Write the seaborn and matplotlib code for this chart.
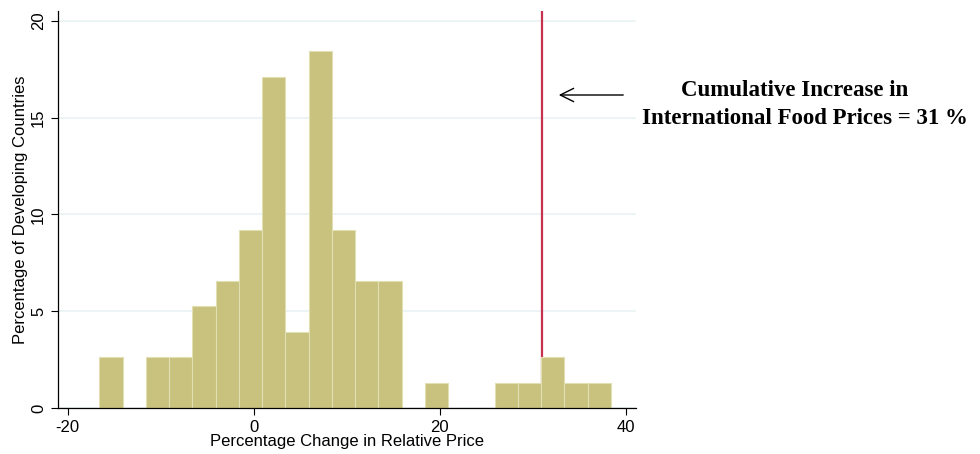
import matplotlib
matplotlib.use('Agg')
import matplotlib.pyplot as plt
import seaborn as sns

# histogram: lower edge of each 2.5-wide bin, and percent of the 76 countries
bin_start = -16.6
bin_width = 2.5
bin_lefts = [-16.6, -14.1, -11.6, -9.1, -6.6, -4.1, -1.6, 0.9, 3.4, 5.9, 8.4,
             10.9, 13.4, 15.9, 18.4, 20.9, 23.4, 25.9, 28.4, 30.9, 33.4, 35.9]
counts = [2, 0, 2, 2, 4, 5, 7, 13, 3, 14, 7, 5, 5, 0, 1, 0, 0, 1, 1, 2, 1, 1]
n_countries = 76
pct = [100 * c / n_countries for c in counts]
centers = [b + bin_width / 2 for b in bin_lefts]

food_increase = 31
xticks = [-20, 0, 20, 40]
yticks = [0, 5, 10, 15, 20]

sns.set_style('white')
plt.rcParams['font.family'] = ['Liberation Sans', 'DejaVu Sans']
plt.rcParams['axes.unicode_minus'] = False
plt.rcParams['text.color'] = 'black'
plt.rcParams['axes.labelcolor'] = 'black'
plt.rcParams['xtick.color'] = 'black'
plt.rcParams['ytick.color'] = 'black'

fig = plt.figure(figsize=(9.8, 4.54), dpi=100)
ax = fig.add_axes([0.0592, 0.1007, 0.5893, 0.8751])

sns.histplot(x=centers, weights=pct, binwidth=bin_width,
             binrange=(bin_start, bin_start + bin_width * len(bin_lefts)),
             color='#c8c27e', edgecolor='#e2dfb4', linewidth=0.8, alpha=1,
             ax=ax, zorder=2)

ax.axvline(food_increase, color='#c8304f', linewidth=1.6, zorder=1)

ax.set_xlim(-21.05, 41.05)
ax.set_ylim(0, 20.5)
ax.set_xticks(xticks)
ax.set_yticks(yticks)
ax.set_yticklabels([str(t) for t in yticks], rotation=90, va='center')
ax.tick_params(axis='both', direction='out', length=5, width=0.8,
               labelsize=12, bottom=True, left=True)
ax.yaxis.grid(True, color='#eaf2f3', linewidth=1.2, zorder=0)
ax.set_axisbelow(True)

for side in ['top', 'right']:
    ax.spines[side].set_visible(False)
for side in ['left', 'bottom']:
    ax.spines[side].set_color('black')
    ax.spines[side].set_linewidth(0.9)

ax.set_xlabel('Percentage Change in Relative Price', fontsize=12, labelpad=-1)
ax.set_ylabel('Percentage of Developing Countries', fontsize=12, labelpad=2)

# arrow and note to the right of the plot
ax.annotate('', xy=(556 / 980, 1 - 95 / 454), xytext=(626 / 980, 1 - 95 / 454),
            xycoords='figure fraction', textcoords='figure fraction',
            arrowprops=dict(arrowstyle='->', color='black', lw=1.0,
                            mutation_scale=24))
fig.text(795 / 980, 1 - 91 / 454, 'Cumulative Increase in',
         family=['Liberation Serif'], fontweight='bold', fontsize=16.5,
         ha='center', va='center')
fig.text(805 / 980, 1 - 119 / 454, 'International Food Prices = 31 %',
         family=['Liberation Serif'], fontweight='bold', fontsize=16.5,
         ha='center', va='center')

fig.savefig('out.png', dpi=100)
